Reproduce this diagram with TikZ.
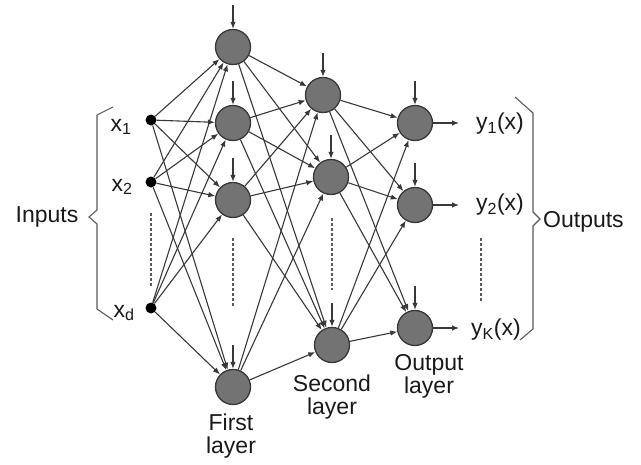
\documentclass[tikz,border=0pt]{standalone}
\usepackage{fontspec}
\setmainfont{Liberation Sans}
\usetikzlibrary{arrows.meta}

\begin{document}
\begin{tikzpicture}[x=1pt,y=-1pt,
  neuron/.style={circle,draw=black!78,line width=1.3pt,fill=black!55,minimum size=35pt,inner sep=0pt},
  inp/.style={circle,fill=black,minimum size=11pt,inner sep=0pt},
  link/.style={draw=black!78,line width=1.1pt,-{Latex[length=7pt,width=5.5pt]}},
  lbl/.style={font=\fontsize{23}{23}\selectfont,text=black!90,inner sep=0pt,align=center},
  brace/.style={draw=black!65,line width=1.1pt},
  dotline/.style={draw=black!65,line width=1.2pt,dash pattern=on 2.5pt off 2.5pt}
]
\useasboundingbox (0,0) rectangle (641,464);

% input points
\node[inp] (i1) at (151,120) {};
\node[inp] (i2) at (151,182) {};
\node[inp] (id) at (151,308) {};

% first hidden layer
\node[neuron] (h1) at (233,47) {};
\node[neuron] (h2) at (233,123) {};
\node[neuron] (h3) at (233,200) {};
\node[neuron] (h4) at (233,387) {};

% second hidden layer
\node[neuron] (s1) at (323,95) {};
\node[neuron] (s2) at (331,177) {};
\node[neuron] (s3) at (332,345) {};

% output layer
\node[neuron] (o1) at (415,123) {};
\node[neuron] (o2) at (415,205) {};
\node[neuron] (o3) at (415,328) {};

% fully connected weights
\foreach \a in {i1,i2,id}
  \foreach \b in {h1,h2,h3,h4}
    \draw[link] (\a) -- (\b);
\foreach \a in {h1,h2,h3,h4}
  \foreach \b in {s1,s2,s3}
    \draw[link] (\a) -- (\b);
\foreach \a in {s1,s2,s3}
  \foreach \b in {o1,o2,o3}
    \draw[link] (\a) -- (\b);

% bias inputs from above
\foreach \n in {h1,h2,h3,h4,s1,s2,s3,o1,o2,o3}{
  \coordinate (b\n) at ([yshift=24pt]\n.north);
  \draw[link] (b\n) -- (\n.north);
}

% network outputs
\coordinate (e1) at (459,123);
\coordinate (e2) at (459,205);
\coordinate (e3) at (459,328);
\draw[link] (o1) -- (e1);
\draw[link] (o2) -- (e2);
\draw[link] (o3) -- (e3);

% ellipsis lines
\draw[dotline] (151,213) -- (151,286);
\draw[dotline] (233,238) -- (233,306);
\draw[dotline] (332,218) -- (332,290);
\draw[dotline] (481,238) -- (481,302);

% input and output labels
\node[lbl] (tx1) at (121,127) {x\textsubscript{1}};
\node[lbl] (tx2) at (122,187) {x\textsubscript{2}};
\node[lbl] (txd) at (124,313) {x\textsubscript{d}};
\node[lbl] (ty1) at (500,124) {y\textsubscript{1}(x)};
\node[lbl] (ty2) at (500,205) {y\textsubscript{2}(x)};
\node[lbl] (tyk) at (496,330) {y\textsubscript{K}(x)};

% braces
\draw[brace] (113,107) -- (97,115) -- (97,210) -- (89,217) -- (97,224) -- (97,309) -- (113,320);
\draw[brace] (515,97) -- (533,113) -- (533,212) -- (540,219) -- (533,226) -- (533,329) -- (520,340);
\node[lbl] (tin) at (47,217) {Inputs};
\node[lbl,anchor=west] (tout) at (543,222) {Outputs};

% layer captions
\node[lbl] (c1) at (231,436) {First\\layer};
\node[lbl] (c2) at (332,397) {Second\\layer};
\node[lbl] (c3) at (429,376) {Output\\layer};
\end{tikzpicture}
\end{document}
